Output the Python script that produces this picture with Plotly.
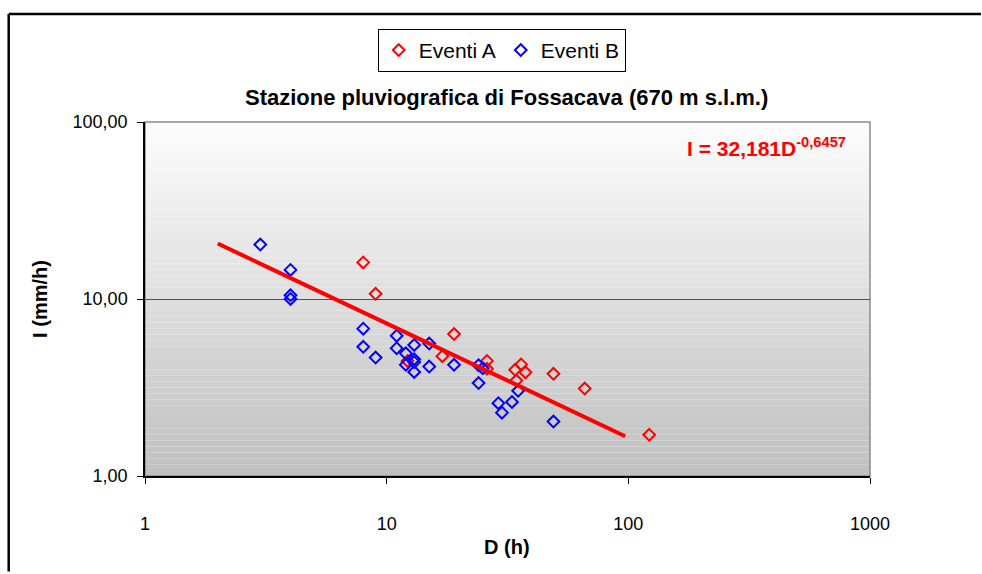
import plotly.graph_objects as go

# ---- data ----
events_a_d = [8, 9, 12.2, 17, 19, 26, 26, 34, 36, 37.5, 34.4, 49, 66, 122]
events_a_i = [16.1, 10.7, 4.47, 4.75, 6.34, 4.47, 4.03, 3.98, 4.27, 3.85, 3.46, 3.78, 3.12, 1.71]

events_b_d = [3, 4, 4, 4, 8, 8, 9, 11, 11, 12, 12, 13, 13, 13, 13, 15, 15, 19,
              24, 25, 24, 29, 30, 33, 35, 49]
events_b_i = [20.3, 14.6, 10.5, 10.0, 6.8, 5.37, 4.67, 6.2, 5.27, 4.93, 4.25, 5.5,
              4.57, 4.4, 3.87, 5.6, 4.15, 4.25, 4.23, 4.06, 3.35, 2.58, 2.28, 2.62,
              3.03, 2.03]

# power trend line I = a * D^b (equation printed on the chart)
trend_a = 32.181
trend_b = -0.6457
trend_d = [2, 97]

y_tickvals = [1, 10, 100]
y_ticktext = ["1,00", "10,00", "100,00"]
x_tickvals = [1, 10, 100, 1000]
x_ticktext = ["1", "10", "100", "1000"]

FONT = "Liberation Sans, Arial, sans-serif"

fig = go.Figure()
fig.add_trace(go.Scatter(
    x=events_a_d, y=events_a_i, mode="markers", name="Eventi A",
    marker=dict(symbol="diamond-open", size=9, color="#ff0000", line=dict(width=2, color="#ff0000")),
))
fig.add_trace(go.Scatter(
    x=events_b_d, y=events_b_i, mode="markers", name="Eventi B",
    marker=dict(symbol="diamond-open", size=9, color="#0000ff", line=dict(width=2, color="#0000ff")),
))
fig.add_trace(go.Scatter(
    x=trend_d, y=[trend_a * d ** trend_b for d in trend_d], mode="lines",
    line=dict(color="#ff0000", width=4), showlegend=False, hoverinfo="skip",
))

# gradient plot background (white top -> grey bottom)
shapes = []
n = 60
for k in range(n):
    t = k / (n - 1)  # 0 bottom, 1 top
    v = int(round(0xc0 + (0xfc - 0xc0) * t))
    col = f"rgb({v},{v},{v})"
    shapes.append(dict(type="rect", xref="paper", yref="paper",
                       x0=0, x1=1, y0=k / n, y1=(k + 1) / n,
                       fillcolor=col, line=dict(width=0), layer="below"))
# grey plot border
shapes.append(dict(type="rect", xref="paper", yref="paper", x0=0, x1=1, y0=0, y1=1,
                   line=dict(color="#8c8c8c", width=1.5), layer="below"))
# outer chart frame: only left and top edges are inside the picture
shapes.append(dict(type="line", xref="paper", yref="paper",
                   x0=-0.188, x1=1.153, y0=1.305, y1=1.305,
                   line=dict(color="black", width=2.5), layer="above"))
shapes.append(dict(type="line", xref="paper", yref="paper",
                   x0=-0.188, x1=-0.188, y0=-0.27, y1=1.305,
                   line=dict(color="black", width=2.5), layer="above"))

fig.update_layout(
    width=982, height=574,
    margin=dict(l=145, r=112, t=122, b=98),
    paper_bgcolor="white", plot_bgcolor="white",
    font=dict(family=FONT, color="black"),
    shapes=shapes,
    showlegend=True,
    legend=dict(orientation="h", x=0.492, xanchor="center", y=1.263, yanchor="top",
                bordercolor="black", borderwidth=1, bgcolor="white",
                font=dict(size=21, family=FONT), itemwidth=30,
                tracegroupgap=0),
    xaxis=dict(type="log", range=[0, 3], tickvals=x_tickvals, ticktext=x_ticktext,
               showgrid=False, zeroline=False, showline=True, linecolor="black", linewidth=1.5,
               ticks="outside", ticklen=6, tickcolor="black",
               tickfont=dict(size=18, family=FONT), ticklabelstandoff=25),
    yaxis=dict(type="log", range=[0, 2], tickvals=y_tickvals, ticktext=y_ticktext,
               showgrid=True, gridcolor="#505050", gridwidth=1, zeroline=False,
               showline=True, linecolor="black", linewidth=1.5,
               ticks="outside", ticklen=6, tickcolor="black",
               tickfont=dict(size=18, family=FONT), ticklabelstandoff=6),
    annotations=[
        dict(text="<b>Stazione pluviografica di Fossacava (670 m s.l.m.)</b>",
             xref="paper", yref="paper", x=0.499, y=1.0706, xanchor="center", yanchor="middle",
             showarrow=False, font=dict(size=22, family=FONT, color="black")),
        dict(text="<b>I = 32,181D<sup>-0,6457</sup></b>",
             xref="paper", yref="paper", x=0.745, y=0.93, xanchor="left", yanchor="middle",
             showarrow=False, font=dict(size=21, family=FONT, color="#ff0000")),
        dict(text="<b>I (mm/h)</b>", xref="paper", yref="paper", x=-0.145, y=0.5,
             xanchor="center", yanchor="middle", textangle=-90, showarrow=False,
             font=dict(size=20, family=FONT)),
        dict(text="<b>D (h)</b>", xref="paper", yref="paper", x=0.499, y=-0.2,
             xanchor="center", yanchor="middle", showarrow=False,
             font=dict(size=20, family=FONT)),
    ],
)

fig.write_html("out.html")
